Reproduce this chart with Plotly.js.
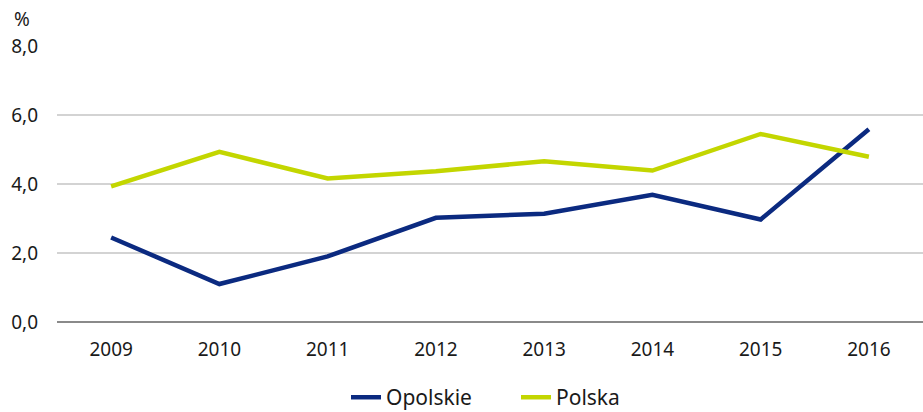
<!DOCTYPE html>
<html><head><meta charset="utf-8">
<script src="https://cdn.plot.ly/plotly-3.0.1.min.js"></script>
<style>html,body{margin:0;padding:0;background:#fff}#chart{width:923px;height:412px}</style>
</head><body><div id="chart"></div>
<script>
const years = ["2009","2010","2011","2012","2013","2014","2015","2016"];
const opolskie = [2.45, 1.1, 1.9, 3.02, 3.14, 3.69, 2.97, 5.59];
const polska = [3.93, 4.93, 4.16, 4.37, 4.66, 4.39, 5.45, 4.79];
const yTicks = [0, 2, 4, 6, 8];

const fam = "Noto Sans, Open Sans, sans-serif";
const font = {family: fam, size: 19, color: "#1a1a1a"};
const traces = [
  {x: years, y: opolskie, name: "Opolskie", type: "scatter", mode: "lines",
   line: {color: "#0b2a80", width: 4.5}},
  {x: years, y: polska, name: "Polska", type: "scatter", mode: "lines",
   line: {color: "#c3d600", width: 4.5}}
];
const layout = {
  width: 923, height: 412,
  margin: {l: 57, r: 0, t: 46, b: 90},
  paper_bgcolor: "#fff", plot_bgcolor: "#fff",
  font: font,
  separators: ",.",
  showlegend: true,
  legend: {orientation: "h", x: 0.53, xref: "paper", xanchor: "center",
           yref: "container", y: 0.035, yanchor: "middle", entrywidth: 125,
           font: {family: fam, size: 21, color: "#1a1a1a"}},
  xaxis: {type: "category", range: [-0.5, 7.5], showgrid: false, zeroline: false, automargin: false,
          showline: false, ticks: "", ticklabelstandoff: 14, tickfont: font, fixedrange: true},
  yaxis: {range: [0, 8], tickvals: yTicks, tickformat: ".1f", showgrid: true, automargin: false,
          gridcolor: "#d3d3d3", gridwidth: 1.5, zeroline: true, zerolinecolor: "#8a8a8a",
          zerolinewidth: 2, showline: false, ticks: "", ticklabelstandoff: 18, tickfont: font},
  annotations: [{text: "%", xref: "paper", yref: "paper", x: -0.0404, y: 1.0, xanchor: "center",
                 yanchor: "middle", yshift: 27, showarrow: false, font: font}]
};
Plotly.newPlot("chart", traces, layout, {displayModeBar: false, staticPlot: true});
</script></body></html>
